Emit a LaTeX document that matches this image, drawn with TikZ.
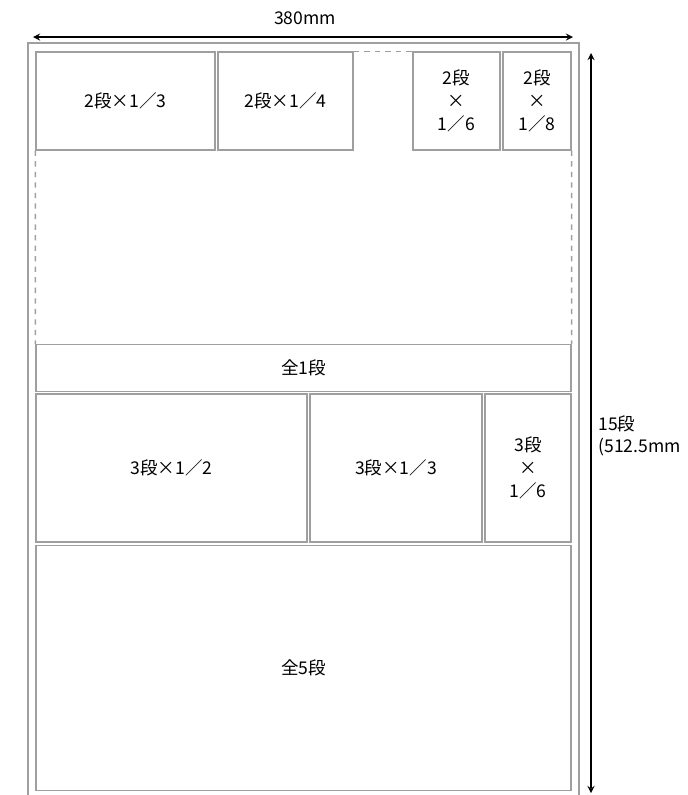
\documentclass[tikz,border=0pt]{standalone}
\usepackage{fontspec}
\setmainfont{Noto Sans CJK JP}
\usepackage{tikz}
\usetikzlibrary{shapes,arrows,positioning}

\begin{document}
\begin{tikzpicture}[x=0.02cm, y=-0.02cm,
        box/.style={draw=gray!75, line width=0.8pt, rectangle, inner sep=0pt, align=center,
            font=\fontsize{10}{13}\selectfont},
        dim/.style={<->, >=stealth, thick}]
        \useasboundingbox (0,0) rectangle (687,795);

        % Page
        \draw[gray!75, line width=0.8pt] (28,43) rectangle (579,810);

        % Nodes
        \node[box, minimum width=3.58cm, minimum height=1.96cm] (b13) at (125.5,101) {2段×1／3};
        \node[box, minimum width=2.70cm, minimum height=1.96cm] (b14) at (285.5,101) {2段×1／4};
        \node[box, minimum width=1.74cm, minimum height=1.96cm] (b16) at (456.5,101) {2段\\×\\1／6};
        \node[box, minimum width=1.36cm, minimum height=1.96cm] (b18) at (537,101) {2段\\×\\1／8};
        \node[box, minimum width=10.70cm, minimum height=0.94cm] (all1) at (303.5,368) {全1段};
        \node[box, minimum width=5.42cm, minimum height=2.96cm] (c12) at (171.5,468) {3段×1／2};
        \node[box, minimum width=3.44cm, minimum height=2.96cm] (c13) at (396,468) {3段×1／3};
        \node[box, minimum width=1.72cm, minimum height=2.96cm] (c16) at (528,468) {3段\\×\\1／6};
        \node[box, minimum width=10.70cm, minimum height=4.90cm] (all5) at (303.5,668) {全5段};

        \coordinate (wl) at (33,37);
        \coordinate (wr) at (573,37);
        \coordinate (ht) at (591,53);
        \coordinate (hb) at (591,793);

        % Edges
        \draw[gray!75, line width=0.8pt, dashed] (b14.north east) -- (b16.north west);
        \draw[gray!75, line width=0.8pt, dashed] (b13.south west) -- (all1.north west);
        \draw[gray!75, line width=0.8pt, dashed] (b18.south east) -- (all1.north east);
        \draw[dim] (wl) -- (wr);
        \draw[dim] (ht) -- (hb);

        % Labels
        \node[font=\fontsize{10}{13}\selectfont] (wlabel) at (305,18) {380mm};
        \node[right, align=left, inner sep=0pt, font=\fontsize{10}{12.5}\selectfont] (hlabel) at (598,436) {15段\\(512.5mm};
    \end{tikzpicture}
\end{document}
